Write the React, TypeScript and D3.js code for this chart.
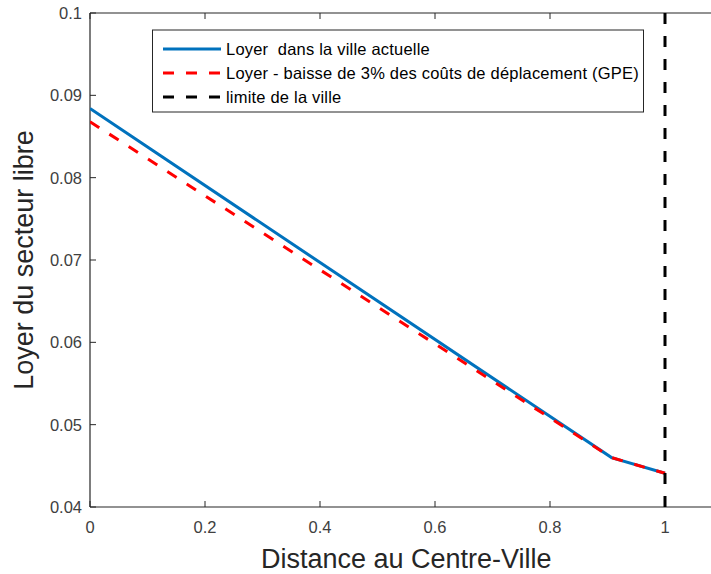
import React from "react";
import * as d3 from "d3";

const distance = [0, 0.907, 1];
const loyerActuel = [0.0884, 0.0460, 0.0441];
const loyerGPE = [0.0868, 0.0460, 0.0441];
const limiteX = 1;
const xTicks = [0, 0.2, 0.4, 0.6, 0.8, 1];
const yTicks = [0.04, 0.05, 0.06, 0.07, 0.08, 0.09, 0.1];
const legendLabels = [
  "Loyer  dans la ville actuelle",
  "Loyer - baisse de 3% des coûts de déplacement (GPE)",
  "limite de la ville",
];

const W = 711;
const H = 574;
const left = 90;
const top = 13;
const bottom = 507;
const right = 722.5;

export default function App() {
  const x = d3.scaleLinear().domain([0, 1.1]).range([left, right]);
  const y = d3.scaleLinear().domain([0.04, 0.1]).range([bottom, top]);
  const line = d3
    .line<number>()
    .x((_, i) => x(distance[i]))
    .y((d) => y(d));
  const axisColor = "#262626";
  const tickColor = "#404040";
  const font = "'Liberation Sans', Arial, sans-serif";
  const legendRows = [49, 73, 97];
  const dash = "11,12";
  const legendStyles = [
    { stroke: "#0072BD", dash: undefined },
    { stroke: "#FF0000", dash },
    { stroke: "#000000", dash },
  ];
  return (
    <svg
      width={W}
      height={H}
      style={{ position: "absolute", left: 0, top: 0, background: "#fff" }}
      fontFamily={font}
    >
      <defs>
        <clipPath id="plot">
          <rect x={left} y={top} width={right - left} height={bottom - top} />
        </clipPath>
      </defs>
      <line x1={left} x2={right} y1={bottom} y2={bottom} stroke={axisColor} strokeWidth={1.2} />
      <line x1={left} x2={right} y1={top} y2={top} stroke={axisColor} strokeWidth={1.2} />
      <line x1={left} x2={left} y1={top} y2={bottom} stroke={axisColor} strokeWidth={1.2} />
      <line x1={right} x2={right} y1={top} y2={bottom} stroke={axisColor} strokeWidth={1.2} />
      {xTicks.map((t) => (
        <g key={"x" + t}>
          <line x1={x(t)} x2={x(t)} y1={bottom} y2={bottom - 6} stroke={axisColor} />
          <line x1={x(t)} x2={x(t)} y1={top} y2={top + 6} stroke={axisColor} />
          <text
            x={x(t)}
            y={bottom + 26}
            textAnchor="middle"
            fontSize={16.5}
            fill={tickColor}
          >
            {String(t)}
          </text>
        </g>
      ))}
      {yTicks.map((t) => (
        <g key={"y" + t}>
          <line x1={left} x2={left + 6} y1={y(t)} y2={y(t)} stroke={axisColor} />
          <line x1={right} x2={right - 6} y1={y(t)} y2={y(t)} stroke={axisColor} />
          <text
            x={left - 8}
            y={y(t) + 6}
            textAnchor="end"
            fontSize={16.5}
            fill={tickColor}
          >
            {String(+t.toFixed(2))}
          </text>
        </g>
      ))}
      <g clipPath="url(#plot)">
        <path d={line(loyerActuel) || ""} fill="none" stroke="#0072BD" strokeWidth={3} />
        <path
          d={line(loyerGPE) || ""}
          fill="none"
          stroke="#FF0000"
          strokeWidth={3}
          strokeDasharray={dash}
        />
        <line
          x1={x(limiteX)}
          x2={x(limiteX)}
          y1={top}
          y2={bottom}
          stroke="#000"
          strokeWidth={3}
          strokeDasharray={dash}
        />
      </g>
      <rect x={152.5} y={30} width={491} height={82} fill="#fff" stroke={axisColor} strokeWidth={1} />
      {legendLabels.map((l, i) => (
        <g key={l}>
          <line
            x1={163}
            x2={221}
            y1={legendRows[i]}
            y2={legendRows[i]}
            stroke={legendStyles[i].stroke}
            strokeWidth={3}
            strokeDasharray={legendStyles[i].dash}
          />
          <text x={226} y={legendRows[i] + 5.5} fontSize={16.5} letterSpacing={0.2} fill="#000" style={{ whiteSpace: "pre" }}>
            {l}
          </text>
        </g>
      ))}
      <text
        x={(left + right) / 2}
        y={568}
        textAnchor="middle"
        fontSize={27}
        fill={axisColor}
      >
        Distance au Centre-Ville
      </text>
      <text
        transform={`translate(33, ${(top + bottom) / 2}) rotate(-90)`}
        textAnchor="middle"
        fontSize={27}
        fill={axisColor}
      >
        Loyer du secteur libre
      </text>
    </svg>
  );
}
